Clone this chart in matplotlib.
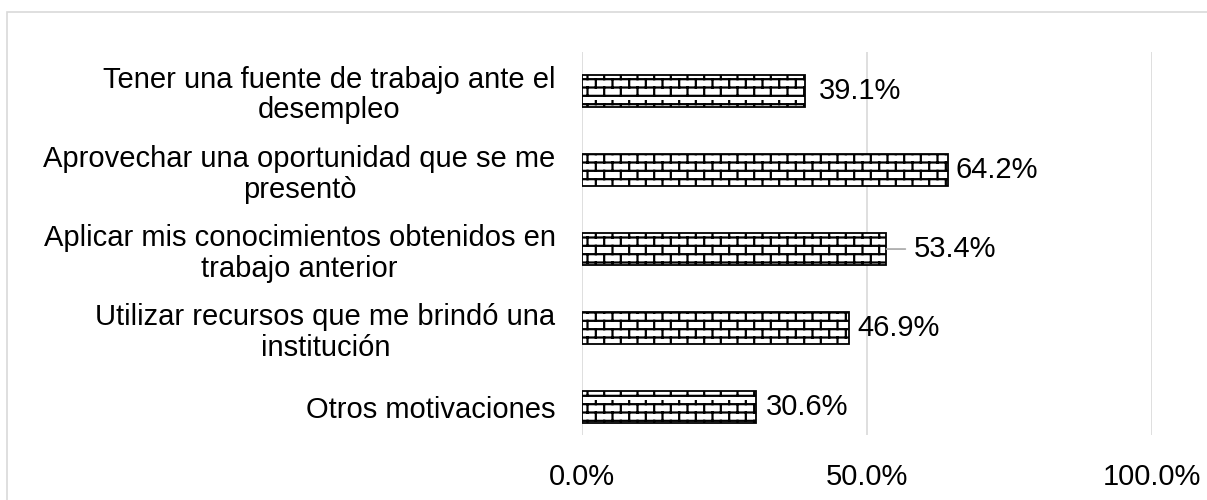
import matplotlib
matplotlib.use('Agg')
import matplotlib.pyplot as plt
from matplotlib import hatch as mhatch
from matplotlib.patches import Rectangle
from matplotlib.path import Path
import numpy as np

# Data
categories = [
    'Tener una fuente de trabajo ante el\ndesempleo',
    'Aprovechar una oportunidad que se me\npresentò',
    'Aplicar mis conocimientos obtenidos en\ntrabajo anterior',
    'Utilizar recursos que me brindó una\ninstitución',
    'Otros motivaciones',
]
values = [0.391, 0.642, 0.534, 0.469, 0.306]
tick_values = [0.0, 0.5, 1.0]

# Label gap after bar end, in pixels (Excel placed one label further out)
label_gap = [14, 8, 27, 8, 9]


# Brick hatch: takes the place of the '*' pattern
class Bricks(mhatch.HatchPatternBase):
    rows = 12
    cols = 6

    def __init__(self, hatch, density):
        n = hatch.count('*')
        self.num_vertices = (self.rows * 2 + self.rows * self.cols * 2) if n else 0

    def set_vertices_and_codes(self, vertices, codes):
        i = 0
        for k in range(self.rows):
            y0 = (k + 0.5) / self.rows
            vertices[i] = (0.0, y0)
            vertices[i + 1] = (1.0, y0)
            codes[i] = Path.MOVETO
            codes[i + 1] = Path.LINETO
            i += 2
            y1 = (k + 1.5) / self.rows
            for j in range(self.cols):
                x = (j + 0.25 + 0.5 * (k % 2)) / self.cols
                vertices[i] = (x, y0)
                vertices[i + 1] = (x, min(y1, 1.0))
                codes[i] = Path.MOVETO
                codes[i + 1] = Path.LINETO
                i += 2


mhatch._hatch_types = [Bricks if t is mhatch.Stars else t for t in mhatch._hatch_types]

plt.rcParams['font.family'] = ['Liberation Sans', 'DejaVu Sans']
plt.rcParams['hatch.linewidth'] = 1.6

W, H = 1207, 500
FS = 21
fig = plt.figure(figsize=(W / 100, H / 100), dpi=100)

# light grey chart border (right and bottom run off the picture)
fig.patches.append(Rectangle((7 / W, -0.5), 2, 1.5 - 12 / H, transform=fig.transFigure,
                             fill=False, edgecolor='#d9d9d9', linewidth=1.2))

ax = fig.add_axes([582 / W, 1 - 435 / H, 570 / W, 383 / H])

y = np.arange(len(categories))
bars = ax.barh(y, values, height=0.4, color='white', edgecolor='black',
               linewidth=1.3, hatch='*', zorder=3)

ax.set_xlim(0, 1.0)
ax.set_ylim(4.35, -0.49)
ax.set_xticks(tick_values)
ax.set_xticklabels(['{:.1f}%'.format(v * 100) for v in tick_values])
ax.set_yticks(y)
ax.set_yticklabels(categories)
for t in ax.get_yticklabels():
    t.set_multialignment('center')
    t.set_linespacing(1.12)

ax.tick_params(axis='both', length=0, labelsize=FS)
ax.tick_params(axis='y', pad=19)
ax.tick_params(axis='x', pad=20)
ax.grid(axis='x', color='#d9d9d9', linewidth=1.2, zorder=0)
for s in ax.spines.values():
    s.set_visible(False)

for i, v in enumerate(values):
    gap = label_gap[i]
    ax.annotate('{:.1f}%'.format(v * 100), xy=(v, i), xytext=(gap * 0.72, 0),
                textcoords='offset points', va='center', ha='left', fontsize=FS)
    if gap > 20:
        ax.annotate('', xy=(v, i), xytext=((gap - 8) * 0.72, 0),
                    textcoords='offset points',
                    arrowprops=dict(arrowstyle='-', color='#a6a6a6', linewidth=1.2,
                                    shrinkA=0, shrinkB=0))

fig.savefig('out.png', dpi=100)
